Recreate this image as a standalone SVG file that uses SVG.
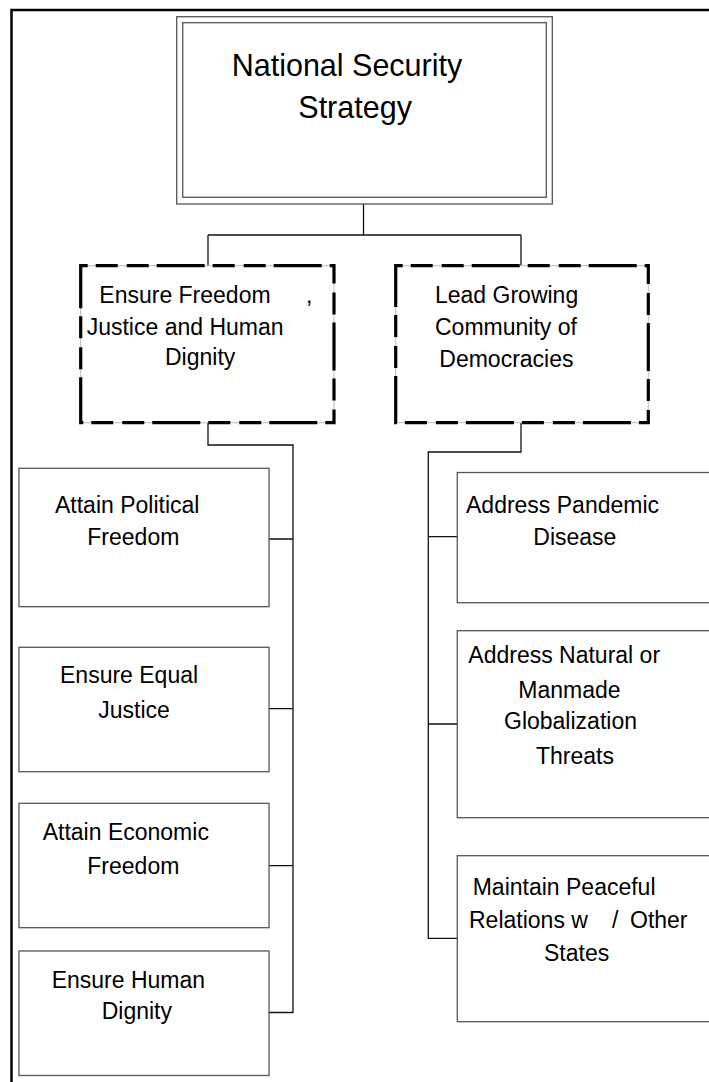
<svg xmlns="http://www.w3.org/2000/svg" width="709" height="1082" viewBox="0 0 709 1082">
<style>
.frame{fill:none;stroke:#000;stroke-width:2.5}
.box{fill:#fff;stroke:#555;stroke-width:1.3}
.dbase{fill:#fff;stroke:#bbb;stroke-width:1}
.dash{fill:none;stroke:#000;stroke-width:3.2;stroke-dasharray:48 8 22 9 22 8;stroke-dashoffset:41}
.conn{fill:none;stroke:#111;stroke-width:1.3}
.t{font-family:"Liberation Sans",Arial,sans-serif;font-size:23px;fill:#000}
.title{font-family:"Liberation Sans",Arial,sans-serif;font-size:30.5px;fill:#000}
</style>
<rect width="709" height="1082" fill="#fff"/>
<rect class="frame" x="11.5" y="10" width="720" height="1090"/>
<g id="connectors">
<path class="conn" d="M363.5 204 V235 M208 235 H521 M208 235 V266 M521 235 V266"/>
<path class="conn" d="M208 423 V445 H293 V1013 M269 539 H293 M269 708.7 H293 M269 865.7 H293 M269 1012.5 H293"/>
<path class="conn" d="M521 423 V452 H428.3 V938.3 H457.3 M428.3 536.7 H457.3 M428.3 724 H457.3"/>
</g>
<g id="n-nss">
<rect class="box" x="176.7" y="16.7" width="375.6" height="187.3"/>
<rect class="box" x="182.7" y="22.7" width="363.6" height="174.6"/>
<text class="title" x="231.7" y="76">National Security</text>
<text class="title" x="298.3" y="118.3">Strategy</text>
</g>
<g id="n-freedom">
<rect class="dbase" x="80.7" y="265.7" width="253.3" height="157"/>
<rect class="dash" x="80.7" y="265.7" width="253.3" height="157"/>
<text class="t" x="99.3" y="302.5">Ensure Freedom</text>
<text class="t" x="306" y="302.5">,</text>
<text class="t" x="86.7" y="335">Justice and Human</text>
<text class="t" x="165" y="365">Dignity</text>
</g>
<g id="n-democracies">
<rect class="dbase" x="395.7" y="265.7" width="252.6" height="157"/>
<rect class="dash" x="395.7" y="265.7" width="252.6" height="157"/>
<text class="t" x="435" y="302.5">Lead Growing</text>
<text class="t" x="435" y="335">Community of</text>
<text class="t" x="439.3" y="367">Democracies</text>
</g>
<g id="n-political">
<rect class="box" x="19" y="468.3" width="250" height="138.4"/>
<text class="t" x="55" y="513">Attain Political</text>
<text class="t" x="87.3" y="545">Freedom</text>
</g>
<g id="n-justice">
<rect class="box" x="19" y="647.3" width="250" height="124.4"/>
<text class="t" x="60" y="683">Ensure Equal</text>
<text class="t" x="98.3" y="718">Justice</text>
</g>
<g id="n-economic">
<rect class="box" x="19" y="803.3" width="250" height="124.4"/>
<text class="t" x="42.7" y="840">Attain Economic</text>
<text class="t" x="87.3" y="874">Freedom</text>
</g>
<g id="n-dignity">
<rect class="box" x="19" y="951" width="250" height="124.5"/>
<text class="t" x="51.7" y="988">Ensure Human</text>
<text class="t" x="101.7" y="1019">Dignity</text>
</g>
<g id="n-pandemic">
<rect class="box" x="457.3" y="472.5" width="300" height="130.2"/>
<text class="t" x="466" y="512.5">Address Pandemic</text>
<text class="t" x="533.3" y="545">Disease</text>
</g>
<g id="n-threats">
<rect class="box" x="457.3" y="630.7" width="300" height="187"/>
<text class="t" x="468.3" y="663.3">Address Natural or</text>
<text class="t" x="518.3" y="697.7">Manmade</text>
<text class="t" x="504" y="729.3">Globalization</text>
<text class="t" x="536" y="764">Threats</text>
</g>
<g id="n-peaceful">
<rect class="box" x="457.3" y="855.7" width="300" height="166"/>
<text class="t" x="472.7" y="895">Maintain Peaceful</text>
<text class="t" x="469" y="928.3">Relations w</text>
<text class="t" x="612" y="928.3">/</text>
<text class="t" x="630" y="928.3">Other</text>
<text class="t" x="544" y="960.7">States</text>
</g>
</svg>
